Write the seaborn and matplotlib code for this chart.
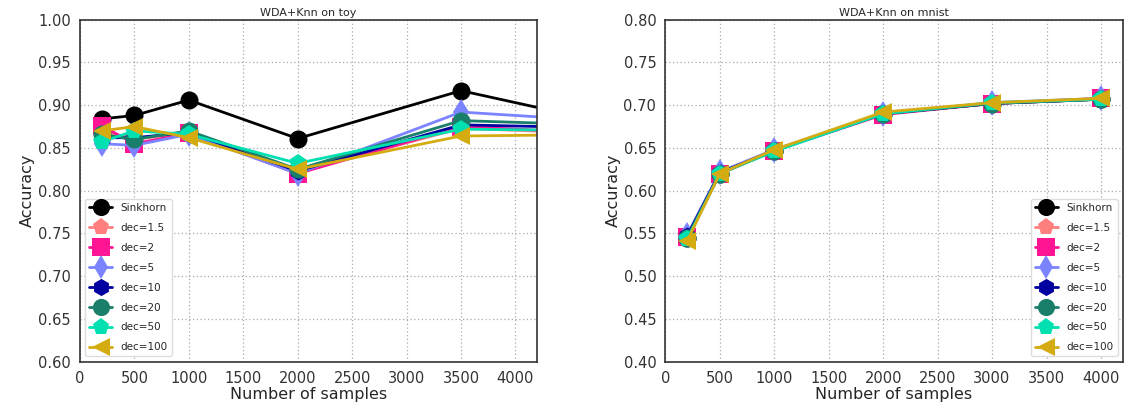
import pandas as pd
import matplotlib.pyplot as plt
import seaborn as sns

sns.set_style('white')
plt.rcParams['font.family'] = ['DejaVu Sans']

labels = ['Sinkhorn', 'dec=1.5', 'dec=2', 'dec=5', 'dec=10', 'dec=20', 'dec=50', 'dec=100']
colors = ['#000000', '#ff7f7f', '#ff1493', '#7b83ff', '#0000a0', '#1a7f6a', '#00e0b0', '#d4ac12']
markers = ['o', 'p', 's', 'd', 'h', 'o', 'p', '<']

# toy dataset (last point lies beyond the visible x range)
toy_n = [200, 500, 1000, 2000, 3500, 5000]
toy_acc = {
    'Sinkhorn': [0.884, 0.888, 0.906, 0.861, 0.917, 0.875],
    'dec=1.5': [0.870, 0.860, 0.868, 0.822, 0.873, 0.866],
    'dec=2': [0.876, 0.855, 0.867, 0.820, 0.875, 0.866],
    'dec=5': [0.855, 0.853, 0.866, 0.820, 0.892, 0.880],
    'dec=10': [0.862, 0.862, 0.868, 0.823, 0.877, 0.873],
    'dec=20': [0.866, 0.860, 0.870, 0.825, 0.882, 0.876],
    'dec=50': [0.857, 0.870, 0.866, 0.832, 0.872, 0.870],
    'dec=100': [0.870, 0.875, 0.862, 0.825, 0.864, 0.866],
}

# mnist dataset
mnist_n = [200, 500, 1000, 2000, 3000, 4000]
mnist_acc = {
    'Sinkhorn': [0.545, 0.620, 0.647, 0.690, 0.702, 0.707],
    'dec=1.5': [0.545, 0.620, 0.647, 0.690, 0.702, 0.707],
    'dec=2': [0.546, 0.620, 0.647, 0.689, 0.702, 0.708],
    'dec=5': [0.548, 0.622, 0.648, 0.690, 0.703, 0.708],
    'dec=10': [0.547, 0.621, 0.647, 0.690, 0.702, 0.707],
    'dec=20': [0.545, 0.620, 0.647, 0.690, 0.702, 0.707],
    'dec=50': [0.543, 0.620, 0.646, 0.690, 0.703, 0.707],
    'dec=100': [0.541, 0.620, 0.648, 0.692, 0.703, 0.708],
}


def to_long(n, acc):
    rows = []
    for lab in labels:
        for x, y in zip(n, acc[lab]):
            rows.append({'n': x, 'acc': y, 'method': lab})
    return pd.DataFrame(rows)


fig, axes = plt.subplots(1, 2, figsize=(11.41, 4.11), dpi=100)
fig.subplots_adjust(left=0.07, right=0.984, bottom=0.12, top=0.952, wspace=0.28)

panels = [(toy_n, toy_acc, 'WDA+Knn on toy', (0.6, 1.0), 'lower left'),
          (mnist_n, mnist_acc, 'WDA+Knn on mnist', (0.4, 0.8), 'lower right')]

for ax, (n, acc, title, ylim, loc) in zip(axes, panels):
    df = to_long(n, acc)
    sns.lineplot(data=df, x='n', y='acc', hue='method', style='method',
                 hue_order=labels, style_order=labels,
                 palette=dict(zip(labels, colors)), markers=dict(zip(labels, markers)),
                 dashes=False, markersize=13, linewidth=2, markeredgewidth=0,
                 ax=ax, legend=True)
    ax.set_xlim(0, 4200)
    ax.set_ylim(*ylim)
    ax.set_xticks(range(0, 4001, 500))
    ax.set_yticks([ylim[0] + 0.05 * i for i in range(9)])
    ax.grid(True, linestyle=(0, (1, 2)), color='#aaaaaa', linewidth=0.9)
    for s in ax.spines.values():
        s.set_color('#333333')
        s.set_linewidth(1.2)
    ax.tick_params(axis='both', labelsize=10.5, length=3, direction='out', colors='#333333')
    ax.set_title(title, fontsize=8, pad=3)
    ax.set_xlabel('Number of samples', fontsize=11.5, labelpad=1)
    ax.set_ylabel('Accuracy', fontsize=11.5, labelpad=2)
    ax.legend(loc=loc, fontsize=7.5, handlelength=2.2, labelspacing=0.95,
              borderpad=0.4, framealpha=1, edgecolor='#dddddd', markerscale=0.95)

plt.savefig('out.png', dpi=100)
